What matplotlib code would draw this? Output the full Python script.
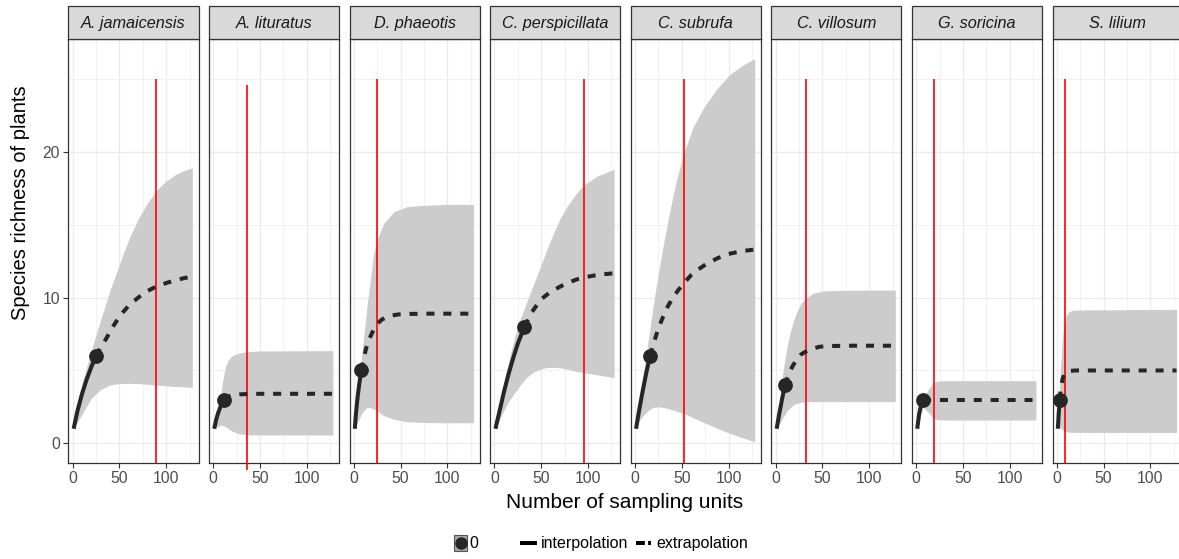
import matplotlib
matplotlib.use('Agg')
import matplotlib.pyplot as plt
from matplotlib.patches import Rectangle
from matplotlib.lines import Line2D

plt.rcParams['font.family'] = ['Liberation Sans', 'DejaVu Sans']

# --- data ------------------------------------------------------------------
species = ['A. jamaicensis', 'A. lituratus', 'D. phaeotis', 'C. perspicillata',
           'C. subrufa', 'C. villosum', 'G. soricina', 'S. lilium']

# reference sample (the dot)
ref_n = [25, 11, 8, 32, 16, 10, 7, 3]
ref_s = [6, 3, 5, 8, 6, 4, 3, 3]

# red vertical lines
cutoff_x = [89, 36, 25, 96, 52, 32, 19, 9]
cutoff_top = [25, 24.6, 25, 25, 25, 25, 25, 25]
cutoff_bottom = [-1.35, -1.8, -1.35, -1.35, -1.35, -1.35, -1.35, -1.35]

# interpolated part (solid)
interp_x = [
    [1, 5, 10, 15, 20, 25],
    [1, 3, 5, 7, 9, 11],
    [1, 2, 4, 6, 8],
    [1, 5, 10, 15, 20, 25, 32],
    [1, 4, 8, 12, 16],
    [1, 4, 7, 10],
    [1, 3, 5, 7],
    [1, 2, 3],
]
interp_y = [
    [1, 2.2, 3.4, 4.4, 5.25, 6.0],
    [1, 1.6, 2.05, 2.4, 2.7, 3.0],
    [1, 1.9, 3.2, 4.2, 5.0],
    [1, 2.1, 3.5, 4.75, 5.85, 6.85, 8.0],
    [1, 2.15, 3.55, 4.85, 6.0],
    [1, 2.1, 3.1, 4.0],
    [1, 2.0, 2.6, 3.0],
    [1, 2.1, 3.0],
]

# extrapolated part (dashed)
extrap_x = [
    [25, 30, 36, 43, 51, 60, 70, 80, 89, 100, 110, 120, 128],
    [11, 14, 18, 22, 28, 35, 50, 70, 90, 110, 128],
    [8, 10, 13, 16, 20, 25, 30, 38, 48, 60, 80, 100, 128],
    [32, 40, 49, 60, 70, 78, 88, 96, 105, 115, 128],
    [16, 20, 25, 30, 35, 41, 46, 52, 60, 68, 76, 88, 100, 115, 128],
    [10, 13, 16, 19, 23, 27, 32, 40, 47, 60, 80, 100, 128],
    [7, 10, 20, 50, 80, 110, 128],
    [3, 4, 6, 8, 10, 13, 20, 60, 100, 128],
]
extrap_y = [
    [6.0, 6.6, 7.2, 8.0, 8.8, 9.45, 10.0, 10.45, 10.75, 11.0, 11.2, 11.35, 11.45],
    [3.0, 3.15, 3.25, 3.31, 3.36, 3.38, 3.4, 3.4, 3.4, 3.4, 3.4],
    [5.0, 5.7, 6.5, 7.1, 7.65, 8.2, 8.5, 8.75, 8.85, 8.88, 8.9, 8.9, 8.9],
    [8.0, 9.0, 9.84, 10.4, 10.75, 11.0, 11.25, 11.39, 11.5, 11.6, 11.67],
    [6.0, 6.9, 7.9, 8.7, 9.4, 10.06, 10.5, 10.98, 11.55, 11.95, 12.3, 12.7, 13.0, 13.2, 13.3],
    [4.0, 4.6, 5.05, 5.4, 5.8, 6.1, 6.29, 6.5, 6.63, 6.68, 6.7, 6.7, 6.7],
    [3.0, 3.0, 3.0, 3.0, 3.0, 3.0, 3.0],
    [3.0, 3.7, 4.4, 4.75, 4.9, 4.97, 5.0, 5.0, 5.0, 5.0],
]

# confidence band
band_x = [
    [1, 10, 20, 30, 40, 50, 60, 70, 80, 90, 100, 110, 120, 128],
    [1, 3, 6, 8, 10, 13, 16, 19, 22, 28, 36, 50, 128],
    [1, 3, 5, 8, 10, 14, 17.5, 21, 25, 32, 43, 57, 80, 100, 128],
    [1, 8, 15, 22, 28, 35, 42, 49, 56, 63, 70, 77, 87, 96, 110, 128],
    [1, 5, 10, 15, 19, 25, 31, 37, 44, 52, 62, 73, 87, 101, 115, 128],
    [1, 4, 8, 12, 15, 19, 23, 27, 32, 40, 50, 70, 128],
    [1, 3, 5, 7, 10, 14, 18, 22, 30, 128],
    [1, 2, 3, 4, 5, 6, 8, 10, 13, 18, 128],
]
band_hi = [
    [1.0, 4.1, 6.4, 8.5, 10.5, 12.3, 14.0, 15.4, 16.5, 17.4, 18.0, 18.45, 18.75, 18.9],
    [1.0, 1.8, 2.8, 3.3, 4.3, 5.25, 5.7, 5.95, 6.06, 6.2, 6.29, 6.34, 6.36],
    [1.0, 2.4, 3.8, 5.8, 7.0, 9.4, 11.2, 13.0, 14.0, 15.1, 15.9, 16.25, 16.35, 16.4, 16.4],
    [1.0, 3.6, 5.6, 7.4, 8.6, 9.8, 10.95, 12.1, 13.3, 14.4, 15.4, 16.2, 17.1, 17.75, 18.35, 18.8],
    [1.0, 3.0, 5.3, 7.5, 9.3, 11.7, 13.9, 15.9, 18.0, 19.9, 21.7, 23.0, 24.3, 25.3, 25.95, 26.4],
    [1.0, 2.8, 5.0, 6.6, 7.5, 8.4, 9.1, 9.6, 9.95, 10.3, 10.45, 10.5, 10.52],
    [1.0, 2.2, 2.9, 3.2, 3.4, 3.8, 4.15, 4.27, 4.3, 4.3],
    [1.0, 2.5, 4.0, 5.4, 6.4, 7.3, 8.3, 8.8, 9.05, 9.15, 9.2],
]
band_lo = [
    [1.0, 2.0, 3.1, 3.7, 4.0, 4.1, 4.12, 4.1, 4.05, 4.0, 3.95, 3.9, 3.87, 3.84],
    [1.0, 1.1, 1.18, 1.22, 1.25, 1.15, 1.0, 0.88, 0.78, 0.65, 0.58, 0.57, 0.57],
    [1.0, 1.35, 1.6, 2.0, 2.2, 2.45, 2.45, 2.35, 2.2, 1.9, 1.65, 1.48, 1.42, 1.41, 1.41],
    [1.0, 2.0, 2.85, 3.5, 4.05, 4.55, 4.9, 5.1, 5.2, 5.22, 5.18, 5.1, 4.95, 4.85, 4.7, 4.5],
    [1.0, 1.6, 2.0, 2.3, 2.45, 2.51, 2.45, 2.35, 2.2, 2.06, 1.75, 1.45, 1.05, 0.69, 0.38, 0.11],
    [1.0, 1.3, 1.8, 2.2, 2.4, 2.65, 2.75, 2.82, 2.86, 2.86, 2.86, 2.86, 2.86],
    [1.0, 1.5, 2.0, 2.5, 2.3, 2.05, 1.7, 1.62, 1.6, 1.6],
    [1.0, 1.2, 1.1, 1.05, 1.0, 0.95, 0.85, 0.8, 0.77, 0.75, 0.75],
]

x_ticks = [0, 50, 100]
y_ticks = [0, 10, 20]

# --- styling ----------------------------------------------------------------
W, H = 1179, 559
curve_col = '#262626'
band_col = '#CCCCCC'
grid_col = '#EBEBEB'
frame_col = '#333333'
dash = (0, (2.0, 2.2))


def px_rect(left, top, width, height):
    # pixel box (from top-left) -> figure fraction
    return [left / W, 1 - (top + height) / H, width / W, height / H]


fig = plt.figure(figsize=(W / 100, H / 100), dpi=100)

for k, name in enumerate(species):
    left = 68.3 + k * 140.6
    ax = fig.add_axes(px_rect(left, 39, 130.2, 424))

    ax.fill_between(band_x[k], band_lo[k], band_hi[k], color=band_col, lw=0, zorder=2)
    ax.vlines(cutoff_x[k], cutoff_bottom[k], cutoff_top[k], color='red', lw=1.2,
              zorder=3, clip_on=(k != 1))
    ax.plot(extrap_x[k], extrap_y[k], color=curve_col, lw=2.9,
            linestyle=dash, solid_capstyle='butt', zorder=4)
    ax.plot(interp_x[k], interp_y[k], color=curve_col, lw=2.9,
            solid_capstyle='butt', zorder=4)
    ax.plot([ref_n[k]], [ref_s[k]], 'o', color=curve_col, ms=9.6, zorder=5)

    ax.set_xlim(-4.7, 134.6)
    ax.set_ylim(-1.35, 27.75)
    ax.set_xticks(x_ticks)
    ax.set_xticks([25, 75, 125], minor=True)
    ax.set_yticks(y_ticks)
    ax.set_yticks([5, 15, 25], minor=True)
    ax.grid(True, which='major', color=grid_col, lw=0.9, zorder=0)
    ax.grid(True, which='minor', color=grid_col, lw=0.5, zorder=0)
    ax.set_axisbelow(True)
    ax.tick_params(which='minor', length=0)
    ax.tick_params(which='major', length=3.5, width=0.8, color=frame_col,
                   labelsize=11.3, labelcolor='#4D4D4D', pad=2.5)
    if k > 0:
        ax.tick_params(axis='y', which='both', left=False, labelleft=False)
    for sp in ax.spines.values():
        sp.set_color(frame_col)
        sp.set_linewidth(0.9)

    # facet strip
    sax = fig.add_axes(px_rect(left, 6, 130.2, 33))
    sax.set_axis_off()
    sax.add_patch(Rectangle((0, 0), 1, 1, transform=sax.transAxes, fc='#D9D9D9',
                            ec=frame_col, lw=0.9, clip_on=False))
    sax.text(0.5, 0.48, name, transform=sax.transAxes, ha='center', va='center',
             style='italic', fontsize=11.7, color='#1A1A1A')

fig.text(625 / W, 1 - 503 / H, 'Number of sampling units', ha='center', va='center',
         fontsize=15)
fig.text(21 / W, 1 - 203 / H, 'Species richness of plants', ha='center', va='center',
         rotation=90, fontsize=14.5)

# --- legend (drawn by hand, ggplot style) ----------------------------------
lax = fig.add_axes([0, 0, 1, 1])
lax.set_xlim(0, W)
lax.set_ylim(H, 0)
lax.set_axis_off()
lax.add_patch(Rectangle((454, 535), 13, 16, fc='#A8A8A8', ec='#555555', lw=0.8))
lax.add_line(Line2D([460.5], [543], marker='o', color=curve_col, ms=8))
lax.text(469.5, 543.5, '0', ha='left', va='center', fontsize=11.5)
lax.add_line(Line2D([520, 537], [543, 543], color='black', lw=2.9, solid_capstyle='butt'))
lax.text(541, 543.5, 'interpolation', ha='left', va='center', fontsize=11.5)
lax.add_line(Line2D([636, 651], [543, 543], color='black', lw=2.9,
                    linestyle=(0, (2.2, 0.8)), solid_capstyle='butt'))
lax.text(656, 543.5, 'extrapolation', ha='left', va='center', fontsize=11.5)

fig.savefig('out.png', dpi=100)
